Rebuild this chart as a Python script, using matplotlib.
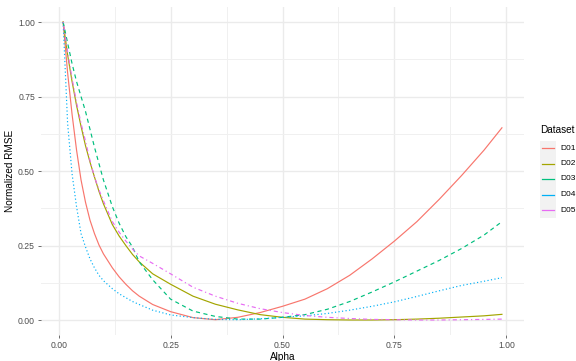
import matplotlib
matplotlib.use("Agg")
import matplotlib.pyplot as plt
from matplotlib.lines import Line2D
from matplotlib.patches import Rectangle

plt.rcParams["font.family"] = ["Liberation Sans", "DejaVu Sans"]

# ================= DATA =================
alpha = [0.01, 0.02, 0.03, 0.04, 0.05, 0.06, 0.07, 0.08, 0.09, 0.10,
         0.12, 0.135, 0.15, 0.165, 0.18, 0.21, 0.25, 0.30, 0.35, 0.40,
         0.45, 0.50, 0.55, 0.60, 0.65, 0.70, 0.75, 0.80, 0.85, 0.90,
         0.95, 0.99]

d01 = [1.0, 0.83, 0.69, 0.57, 0.47, 0.395, 0.335, 0.29, 0.252, 0.222,
       0.175, 0.145, 0.12, 0.098, 0.08, 0.052, 0.028, 0.008, 0.001, 0.009,
       0.025, 0.046, 0.07, 0.105, 0.15, 0.205, 0.265, 0.33, 0.405, 0.485,
       0.57, 0.645]
d02 = [1.0, 0.89, 0.80, 0.72, 0.65, 0.585, 0.53, 0.48, 0.432, 0.39,
       0.32, 0.282, 0.25, 0.22, 0.195, 0.155, 0.12, 0.08, 0.053, 0.034,
       0.018, 0.009, 0.003, 0.001, 0.0, 0.0, 0.001, 0.003, 0.006, 0.01,
       0.014, 0.019]
d03 = [1.0, 0.93, 0.86, 0.80, 0.75, 0.70, 0.64, 0.58, 0.525, 0.47,
       0.38, 0.325, 0.28, 0.245, 0.195, 0.135, 0.07, 0.03, 0.012, 0.003,
       0.003, 0.009, 0.018, 0.036, 0.062, 0.094, 0.128, 0.164, 0.20, 0.24,
       0.285, 0.33]
d04 = [1.0, 0.66, 0.49, 0.38, 0.29, 0.245, 0.205, 0.175, 0.15, 0.132,
       0.105, 0.088, 0.075, 0.062, 0.052, 0.033, 0.017, 0.008, 0.002, 0.001,
       0.004, 0.009, 0.014, 0.022, 0.033, 0.046, 0.061, 0.079, 0.098, 0.116,
       0.13, 0.142]
d05 = [1.0, 0.90, 0.81, 0.73, 0.66, 0.60, 0.535, 0.48, 0.437, 0.40,
       0.33, 0.295, 0.265, 0.238, 0.215, 0.19, 0.155, 0.11, 0.08, 0.056,
       0.038, 0.025, 0.015, 0.009, 0.005, 0.002, 0.001, 0.0, 0.0, 0.001,
       0.002, 0.003]

names = ["D01", "D02", "D03", "D04", "D05"]
series = [d01, d02, d03, d04, d05]
colors = ["#F8766D", "#A3A500", "#00BF7D", "#00B0F6", "#E76BF3"]
dashes = [None, None, (3.5, 3), (1, 2), (1, 2.5, 3.5, 2.5)]

x_ticks = [0.0, 0.25, 0.5, 0.75, 1.0]
y_ticks = [0.0, 0.25, 0.5, 0.75, 1.0]
minor_ticks = [0.125, 0.375, 0.625, 0.875]

# ================= PLOT =================
fig = plt.figure(figsize=(5.76, 3.61), dpi=100)
ax = fig.add_axes([0.0715, 0.0723, 0.838, 0.908])

for name, vals, c, d in zip(names, series, colors, dashes):
    line, = ax.plot(alpha, vals, color=c, lw=0.85, label=name)
    if d is not None:
        line.set_dashes(d)

ax.set_xlim(-0.039, 1.039)
ax.set_ylim(-0.05, 1.05)
ax.set_xticks(x_ticks)
ax.set_yticks(y_ticks)
ax.set_xticklabels(["%.2f" % t for t in x_ticks])
ax.set_yticklabels(["%.2f" % t for t in y_ticks])
ax.set_xticks(minor_ticks, minor=True)
ax.set_yticks(minor_ticks, minor=True)

ax.grid(which="major", color="#EBEBEB", lw=1.0)
ax.grid(which="minor", color="#F0F0F0", lw=0.7)
ax.set_axisbelow(True)
for s in ax.spines.values():
    s.set_visible(False)

ax.tick_params(which="major", length=2.5, width=0.5, color="#333333",
               labelsize=6.2, labelcolor="#4D4D4D", pad=2)
ax.tick_params(which="minor", length=0)

ax.set_xlabel("Alpha", fontsize=7.2, labelpad=0)
ax.xaxis.set_label_coords(0.5, -0.052)
ax.set_ylabel("Normalized RMSE", fontsize=7.2, labelpad=2)

# ================= LEGEND =================
W, H = 576.0, 361.0
fig.text(540 / W, 1 - 130 / H, "Dataset", fontsize=7.2, va="center", ha="left")
fig.patches.append(Rectangle((540 / W, 1 - 218 / H), 16 / W, 77 / H,
                             transform=fig.transFigure, facecolor="#F2F2F2",
                             edgecolor="none"))
key_y = [148, 163.5, 179, 194.5, 210]
for name, c, ky in zip(names, colors, key_y):
    fig.lines.append(Line2D([542 / W, 554 / W], [1 - ky / H, 1 - ky / H],
                            transform=fig.transFigure, color=c, lw=0.9))
    fig.text(560 / W, 1 - ky / H, name, fontsize=6.0, va="center", ha="left")

fig.savefig("out.png", dpi=100)
